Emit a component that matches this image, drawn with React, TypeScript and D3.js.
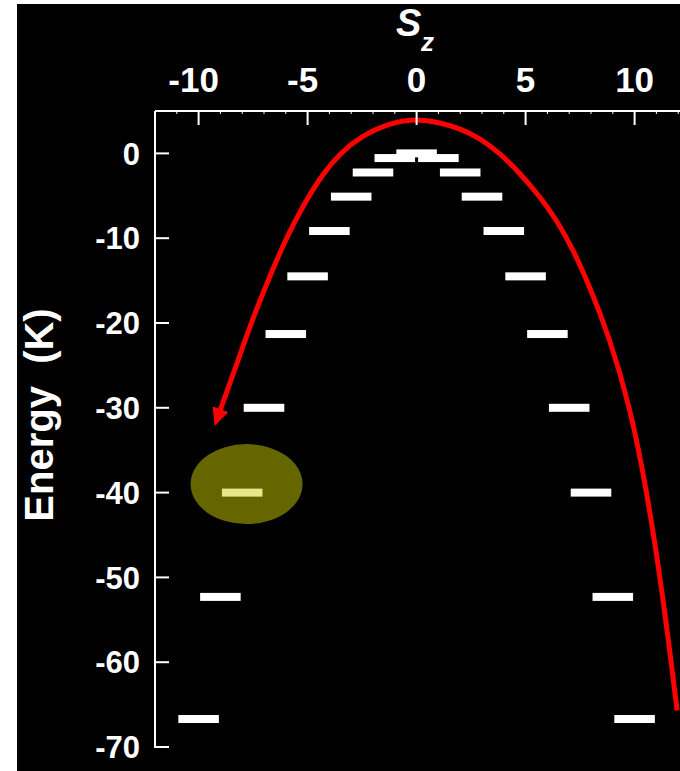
import React from "react";
import * as d3 from "d3";

// Spin projections and level energies (K)
const SZ_VALUES = [-10, -9, -8, -7, -6, -5, -4, -3, -2, -1, 0, 1, 2, 3, 4, 5, 6, 7, 8, 9, 10];
const ENERGY_VALUES = [-66.7, -52.3, -40.0, -30.0, -21.3, -14.5, -9.15, -5.1, -2.25, -0.55, 0,
  -0.55, -2.25, -5.1, -9.15, -14.5, -21.3, -30.0, -40.0, -52.3, -66.7];
const HIGHLIGHT_SZ = -8;
const HIGHLIGHT_CENTER = [-7.8, -39.0];

const X_TICKS = [-10, -5, 0, 5, 10];
const X_MINOR = d3.range(-12, 13, 1);
const Y_TICKS = [0, -10, -20, -30, -40, -50, -60, -70];

// Red tunnelling curve (Sz, E), from the right end to the arrow on the left
const CURVE_SZ = [11.95, 11.31, 10.57, 9.79, 8.78, 7.88, 7.19, 6.43, 5.66, 4.75, 3.83, 2.91, 2.0, 1.08, 0,
  -1.22, -2.59, -3.51, -4.29, -5.25, -6.03, -6.81, -7.55, -8.19, -8.65, -9.01];
const CURVE_E = [-65.7, -52.3, -39.9, -29.8, -21.2, -15.35, -11.4, -7.87, -5.12, -2.36, 0, 1.77, 2.95, 3.61, 4.1,
  3.61, 1.96, 0, -2.33, -6.34, -10.24, -14.96, -19.7, -24.4, -27.7, -30.3];

const W = 680;
const H = 771;
const FONT = "'Liberation Sans', Arial, Helvetica, sans-serif";

export default function App() {
  const x = d3.scaleLinear().domain([-12, 12]).range([155, 678.2]);
  const y = d3.scaleLinear().domain([5, -70]).range([111, 747]);
  const barHalf = 0.93;
  const barH = 8;

  const pts: [number, number][] = CURVE_SZ.map((s, i) => [s, CURVE_E[i]]);
  const line = d3
    .line<[number, number]>()
    .x((d) => x(d[0]))
    .y((d) => y(d[1]))
    .curve(d3.curveBasis);

  const axisTop = 111;
  const axisLeft = 155;

  return (
    <svg
      width={W}
      height={H}
      style={{ position: "absolute", left: 0, top: 0, background: "#fff" }}
      fontFamily={FONT}
    >
      <defs>
        <marker
          id="arrow"
          markerUnits="userSpaceOnUse"
          markerWidth={20}
          markerHeight={20}
          viewBox="0 -8 18 16"
          refX={1}
          refY={0}
          orient="auto"
        >
          <path d="M0,-7.5L16,0L0,7.5Z" fill="#ff0000" />
        </marker>
      </defs>
      <rect x={17} y={4} width={W - 17} height={H - 4} fill="#000" />

      {/* highlight ellipse */}
      <ellipse
        cx={x(HIGHLIGHT_CENTER[0])}
        cy={y(HIGHLIGHT_CENTER[1])}
        rx={56}
        ry={40}
        fill="#666600"
      />

      {/* energy levels */}
      {SZ_VALUES.map((s, i) => (
        <rect
          key={s}
          x={x(s - barHalf)}
          y={y(ENERGY_VALUES[i]) - barH / 2}
          width={x(s + barHalf) - x(s - barHalf)}
          height={barH}
          fill={s === HIGHLIGHT_SZ ? "#e6e68a" : "#ffffff"}
        />
      ))}

      {/* red curve */}
      <path
        d={line(pts) || ""}
        fill="none"
        stroke="#ff0000"
        strokeWidth={5}
        markerEnd="url(#arrow)"
      />

      {/* top axis */}
      <line x1={axisLeft} x2={W} y1={axisTop} y2={axisTop} stroke="#fff" strokeWidth={2} />
      {X_MINOR.map((t) => (
        <line key={"m" + t} x1={x(t)} x2={x(t)} y1={axisTop} y2={axisTop + 3} stroke="#fff" strokeWidth={1} />
      ))}
      {X_TICKS.map((t) => (
        <g key={"x" + t}>
          <line x1={x(t)} x2={x(t)} y1={axisTop} y2={axisTop + 14} stroke="#fff" strokeWidth={2} />
          <text
            x={x(t) + (t < 0 ? -5 : 0)}
            y={92}
            fill="#fff"
            fontSize={35}
            fontWeight="bold"
            textAnchor="middle"
          >
            {String(t)}
          </text>
        </g>
      ))}

      {/* left axis */}
      <line x1={axisLeft} x2={axisLeft} y1={axisTop} y2={y(-70) + 1} stroke="#fff" strokeWidth={2} />
      {Y_TICKS.map((t) => (
        <g key={"y" + t}>
          <line x1={axisLeft} x2={axisLeft + 14} y1={y(t)} y2={y(t)} stroke="#fff" strokeWidth={2} />
          <text
            x={140}
            y={y(t)}
            dy="0.36em"
            fill="#fff"
            fontSize={31}
            fontWeight="bold"
            textAnchor="end"
          >
            {String(t)}
          </text>
        </g>
      ))}

      {/* axis titles */}
      <text x={396} y={36} fill="#fff" fontSize={38} fontWeight="bold" fontStyle="italic">
        S
      </text>
      <text x={421} y={51} fill="#fff" fontSize={26} fontWeight="bold" fontStyle="italic">
        z
      </text>
      <text
        transform={`translate(53,415) rotate(-90)`}
        fill="#fff"
        fontSize={40}
        fontWeight="bold"
        textAnchor="middle"
        style={{ whiteSpace: "pre" }}
      >
        {"Energy  (K)"}
      </text>
    </svg>
  );
}
